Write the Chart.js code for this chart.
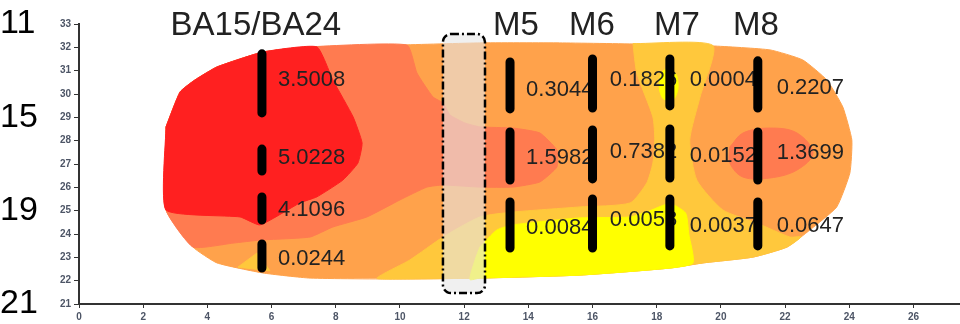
<!DOCTYPE html>
<html>
<head>
<meta charset="utf-8">
<script src="https://cdn.jsdelivr.net/npm/chart.js@4.4.1/dist/chart.umd.min.js"></script>
<style>
  html, body { margin: 0; padding: 0; background: #fff; }
  #wrap { width: 960px; height: 324px; }
</style>
</head>
<body>
<div id="wrap"><canvas id="chart" width="960" height="324"></canvas></div>
<script>
// ===== axes =====
const xTicks = [0, 2, 4, 6, 8, 10, 12, 14, 16, 18, 20, 22, 24, 26];
const yTicks = [21, 22, 23, 24, 25, 26, 27, 28, 29, 30, 31, 32, 33];
const rowLabels = ["11", "15", "19", "21"];
const rowLabelY = [33, 29, 25, 21];

// ===== electrode groups =====
const groupNames = ["BA15/BA24", "M5", "M6", "M7", "M8"];
const groupTitleX = [5.51, 13.61, 15.98, 18.63, 21.09];
const electrodeX = [5.70, 13.43, 16.0, 18.41, 21.15];
const electrodeSegments = [
    [[31.72, 29.19], [27.64, 26.70], [25.59, 24.60], [23.57, 22.54]],
    [[31.37, 29.36], [28.37, 26.31], [25.37, 23.40]],
    [[31.50, 29.40], [28.46, 26.36], [25.50, 23.40]],
    [[31.50, 29.49], [28.50, 26.40], [25.50, 23.49]],
    [[31.42, 29.40], [28.37, 26.31], [25.37, 23.49]]
];
const electrodeValues = [
    ["3.5008", "5.0228", "4.1096", "0.0244"],
    ["0.3044", "1.5982", "0.0084"],
    ["0.1826", "0.7382", "0.0058"],
    ["0.0004", "0.0152", "0.0037"],
    ["0.2207", "1.3699", "0.0647"]
];
const valueX = [6.20, 13.93, 16.54, 19.03, 21.74];
const valueY = [
    [30.60, 27.26, 25.03, 22.93],
    [30.17, 27.26, 24.26],
    [30.60, 27.52, 24.60],
    [30.60, 27.34, 24.34],
    [30.26, 27.47, 24.34]
];

// dashed box (x range, y range)
const boxX = [11.34, 12.65];
const boxY = [21.47, 32.57];

// ===== contour zones (x, y) =====
const orangeZone = [[2.71,28.59],[3.15,30.09],[3.61,30.60],[4.30,31.16],[5.73,31.80],[7.20,32.02],[10.0,32.10],
    [12.49,32.19],[14.98,32.19],[17.48,32.14],[19.75,32.06],[21.53,31.89],[22.55,31.46],[23.30,30.60],[23.80,29.44],
    [24.08,28.03],[24.02,26.62],[23.61,25.16],[22.77,24.17],[22.06,23.44],[21.00,23.01],[19.44,22.76],[18.41,22.54],
    [15.61,22.24],[12.49,22.11],[10.0,22.07],[7.20,22.11],[5.73,22.33],[4.30,22.76],[3.55,23.44],[2.71,25.03]];
const goldZone = [[17.26,32.16],[19.75,32.08],[19.35,29.87],[19.03,28.03],[19.25,26.31],[20.06,25.03],[21.12,24.47],
    [22.15,23.87],[22.50,23.88],[22.06,23.44],[21.00,23.01],[19.44,22.76],[18.41,22.54],[15.61,22.24],[12.49,22.11],
    [10.0,22.07],[9.28,22.11],[10.31,22.89],[11.34,23.87],[12.49,24.73],[13.52,24.94],[15.61,25.16],[17.17,25.33],
    [17.69,26.19],[17.88,27.04],[17.94,28.03],[17.88,29.02],[17.38,30.90]];
const goldSpot = [[4.95,22.58],[5.55,23.19],[5.95,22.42]];
const yellowZone = [[12.49,23.44],[13.02,24.17],[13.52,24.39],[15.61,24.69],[17.17,24.73],[17.79,25.0],[18.41,25.3],
    [18.90,24.90],[19.0,24.0],[19.13,22.76],[18.41,22.54],[15.61,22.24],[12.49,22.11],[12.18,22.05],[12.34,22.89]];
const yellowSpot = [[18.38,31.16],[18.62,30.8],[18.66,30.2],[18.5,29.74],[18.2,29.8],[18.08,30.3],[18.15,30.9]];
const coralZone = [[2.71,28.59],[3.15,30.09],[3.61,30.60],[4.30,31.16],[5.73,31.80],[7.20,32.02],[10.22,32.10],
    [10.53,30.90],[11.03,29.87],[11.34,29.62],[11.56,29.10],[12.02,28.76],[12.49,28.59],[13.52,28.54],[14.36,28.33],
    [14.89,27.60],[14.89,26.87],[14.36,26.23],[13.52,26.01],[12.49,26.01],[11.34,26.10],[10.84,26.01],[10.0,25.46],
    [8.97,24.73],[7.91,24.30],[7.20,23.87],[5.64,23.74],[4.80,23.61],[3.55,23.44],[2.71,25.03]];
const coralSpot = [[20.28,27.73],[20.69,28.33],[21.53,28.54],[22.37,28.33],[22.87,27.47],[22.37,26.74],[21.53,26.40],
    [20.69,26.44],[20.28,27.04]];
const redZone = [[2.71,28.59],[3.15,30.09],[3.61,30.60],[4.30,31.16],[5.73,31.80],[7.41,32.02],[7.91,30.60],
    [8.54,29.02],[8.82,27.90],[8.69,27.04],[8.22,26.31],[7.41,25.59],[6.88,25.33],[5.64,24.39],[5.02,24.73],[2.71,25.03]];

const zones = [
    { pts: orangeZone, color: "#ffa24b", tension: 0.15 },
    { pts: goldZone, color: "#ffc83c", tension: 0.2 },
    { pts: goldSpot, color: "#ffc83c", tension: 0 },
    { pts: yellowZone, color: "#ffff00", tension: 0.2 },
    { pts: yellowSpot, color: "#ffff00", tension: 0.3 },
    { pts: coralZone, color: "#ff7b50", tension: 0.15 },
    { pts: coralSpot, color: "#ff7b50", tension: 0.35 },
    { pts: redZone, color: "#ff2020", tension: 0.15 }
];

const datasets = [];
zones.forEach(function (z) {
    const pts = z.pts.concat([z.pts[0]]);
    datasets.push({
        data: pts.map(p => ({ x: p[0], y: p[1] })),
        fill: "shape",
        backgroundColor: z.color,
        borderColor: z.color,
        borderWidth: 1,
        pointRadius: 0,
        tension: z.tension
    });
});
const lastZoneIndex = datasets.length - 1;

electrodeSegments.forEach(function (segs, g) {
    segs.forEach(function (s) {
        datasets.push({
            data: [{ x: electrodeX[g], y: s[0] }, { x: electrodeX[g], y: s[1] }],
            fill: false,
            borderColor: "#000",
            borderWidth: 9,
            borderCapStyle: "round",
            pointRadius: 0
        });
    });
});
// bottom layers get the highest order so they paint first
datasets.forEach((d, i) => { d.order = datasets.length - i; });

const FONT = "'Liberation Sans', Arial, sans-serif";

const overlay = {
    id: "overlay",
    afterDatasetDraw(chart, args) {
        if (args.index !== lastZoneIndex) return;
        const ctx = chart.ctx, xs = chart.scales.x, ys = chart.scales.y;
        ctx.save();
        // dashed selection box
        const x0 = xs.getPixelForValue(boxX[0]), x1 = xs.getPixelForValue(boxX[1]);
        const y0 = ys.getPixelForValue(boxY[1]), y1 = ys.getPixelForValue(boxY[0]);
        ctx.beginPath();
        ctx.roundRect(x0, y0, x1 - x0, y1 - y0, 8);
        ctx.fillStyle = "rgba(230,230,230,0.6)";
        ctx.fill();
        ctx.setLineDash([8, 3, 2, 3]);
        ctx.lineWidth = 2.5;
        ctx.strokeStyle = "#000";
        ctx.stroke();
        ctx.setLineDash([]);
        // values next to electrodes
        ctx.font = "22px " + FONT;
        ctx.fillStyle = "#222";
        ctx.textAlign = "left";
        ctx.textBaseline = "middle";
        electrodeValues.forEach(function (vals, g) {
            vals.forEach(function (v, k) {
                ctx.fillText(v, xs.getPixelForValue(valueX[g]), ys.getPixelForValue(valueY[g][k]));
            });
        });
        ctx.restore();
    },
    afterDraw(chart) {
        const ctx = chart.ctx, xs = chart.scales.x, ys = chart.scales.y;
        ctx.save();
        ctx.fillStyle = "#222";
        ctx.font = "33px " + FONT;
        ctx.textAlign = "center";
        ctx.textBaseline = "alphabetic";
        groupNames.forEach(function (n, g) {
            ctx.fillText(n, xs.getPixelForValue(groupTitleX[g]), ys.getPixelForValue(32.53));
        });
        ctx.fillStyle = "#000";
        ctx.font = "34px " + FONT;
        ctx.textAlign = "left";
        ctx.textBaseline = "middle";
        rowLabels.forEach(function (t, i) {
            ctx.fillText(t, 0, ys.getPixelForValue(rowLabelY[i]));
        });
        ctx.restore();
    }
};

new Chart(document.getElementById("chart"), {
    type: "line",
    data: { datasets: datasets },
    plugins: [overlay],
    options: {
        responsive: false,
        animation: false,
        devicePixelRatio: 1,
        layout: { padding: { top: 24, left: 0, right: 0, bottom: 0 } },
        plugins: { legend: { display: false }, tooltip: { enabled: false } },
        scales: {
            x: {
                type: "linear",
                min: 0,
                max: 27.45,
                afterBuildTicks: s => { s.ticks = xTicks.map(v => ({ value: v })); },
                afterFit: s => { s.height = 20; },
                grid: { drawOnChartArea: false, drawTicks: true, tickLength: 4, color: "#333" },
                border: { display: true, color: "#333", width: 2 },
                ticks: { font: { size: 10, weight: "bold", family: FONT }, color: "#4d5566", padding: 3, maxRotation: 0 }
            },
            y: {
                type: "linear",
                min: 21,
                max: 33,
                afterBuildTicks: s => { s.ticks = yTicks.map(v => ({ value: v })); },
                afterFit: s => { s.width = 79; },
                grid: { drawOnChartArea: false, drawTicks: true, tickLength: 5, color: "#333" },
                border: { display: true, color: "#333", width: 2 },
                ticks: { font: { size: 10, weight: "bold", family: FONT }, color: "#4d5566", padding: 3 }
            }
        }
    }
});
</script>
</body>
</html>
